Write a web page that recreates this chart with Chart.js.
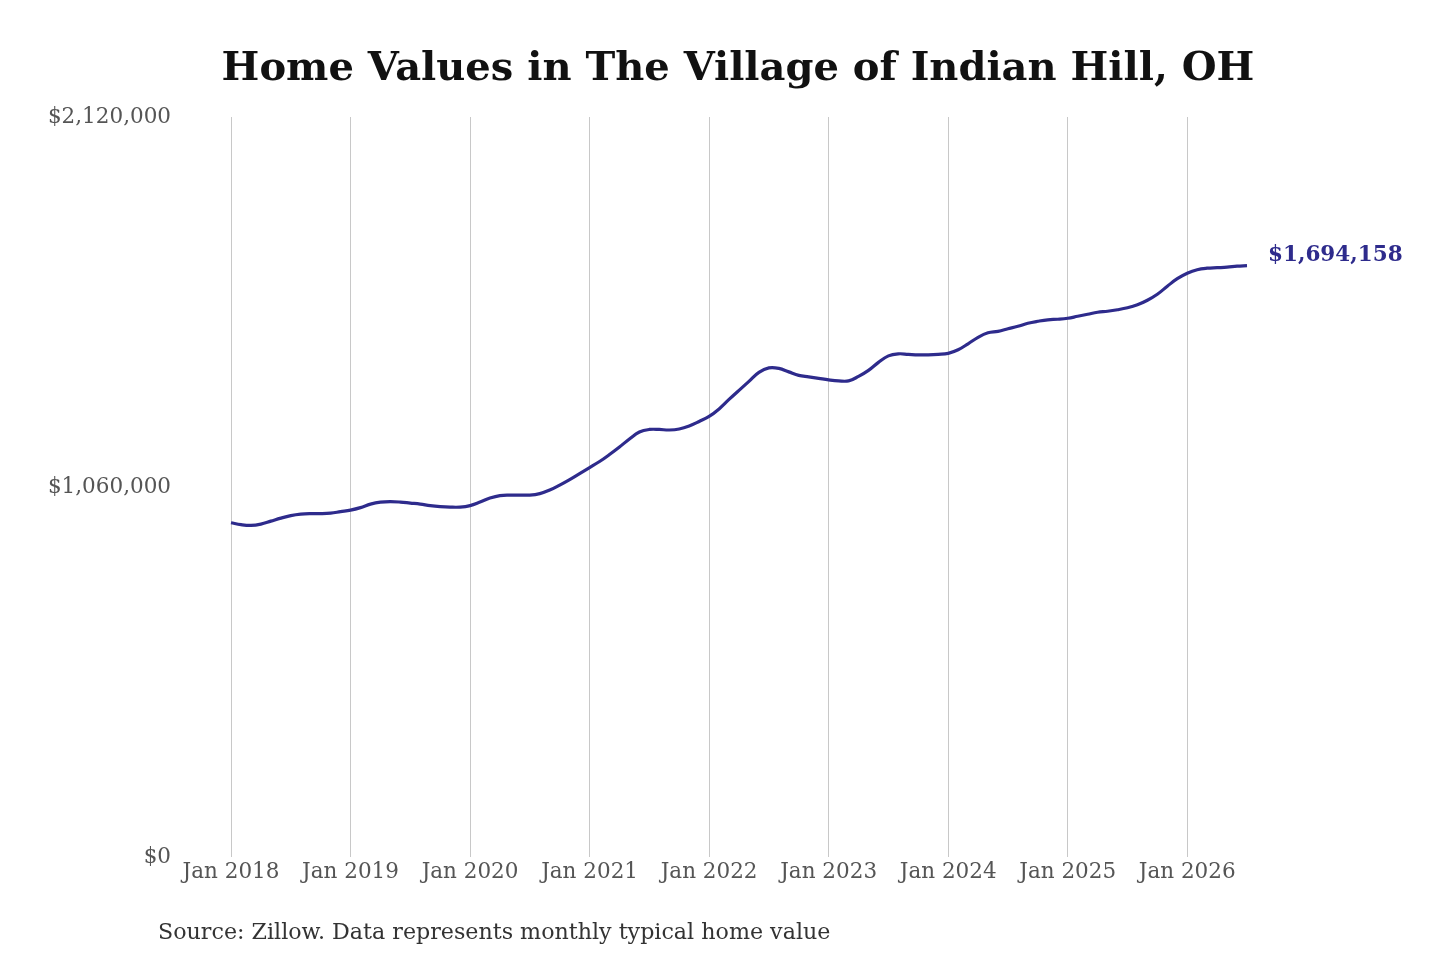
<!DOCTYPE html>
<html>
<head>
<meta charset="utf-8">
<title>Home Values in The Village of Indian Hill, OH</title>
<script src="https://cdn.jsdelivr.net/npm/chart.js@4.4.1/dist/chart.umd.min.js"></script>
<style>
  html, body { margin: 0; padding: 0; background: #fff; }
  #wrap { position: relative; width: 1440px; height: 960px; }
  #chart { position: absolute; left: 0; top: 0; }
  .title {
    position: absolute; left: 0; width: 1476px; top: 42px;
    text-align: center; font-family: "DejaVu Serif", serif; font-weight: bold;
    font-size: 40px; line-height: 48px; color: #111;
  }
  .source {
    position: absolute; left: 158px; top: 917px;
    font-family: "DejaVu Serif", serif; font-size: 22.2px; line-height: 28px; color: #333;
  }
</style>
</head>
<body>
<div id="wrap">
  <canvas id="chart" width="1440" height="960"></canvas>
  <div class="title">Home Values in The Village of Indian Hill, OH</div>
  <div class="source">Source: Zillow. Data represents monthly typical home value</div>
</div>
<script>
// monthly typical home value
const values2018 = [958000, 952500, 950200, 954000, 962500, 971200, 978300, 982600, 984100, 984100, 985500, 989800];
const values2019 = [994100, 1001300, 1011300, 1017100, 1018500, 1017100, 1014200, 1011300, 1007000, 1004200, 1002700, 1002700];
const values2020 = [1007000, 1017100, 1028500, 1035700, 1037100, 1037100, 1037100, 1041400, 1051500, 1065800, 1081600, 1098800];
const values2021 = [1116000, 1133300, 1153300, 1174900, 1197800, 1217900, 1225100, 1225100, 1223600, 1226500, 1235100, 1248000];
const values2022 = [1262400, 1283900, 1311100, 1337000, 1362800, 1388600, 1401500, 1400100, 1390000, 1380000, 1375700, 1371400];
const values2023 = [1367100, 1364200, 1364200, 1377100, 1394300, 1417300, 1435900, 1441700, 1440200, 1438800, 1438800, 1440200];
const values2024 = [1443100, 1453200, 1470400, 1489000, 1501900, 1506200, 1513400, 1520600, 1529200, 1534900, 1539200, 1540700];
const values2025 = [1543500, 1549300, 1555000, 1560700, 1563600, 1567900, 1573600, 1582200, 1595200, 1612400, 1635300, 1656900];
const values2026 = [1672600, 1682700, 1687000, 1688400, 1689800, 1692700, 1694158];

const years = [2018, 2019, 2020, 2021, 2022, 2023, 2024, 2025, 2026];
const monthNames = ['Jan', 'Feb', 'Mar', 'Apr', 'May', 'Jun', 'Jul', 'Aug', 'Sep', 'Oct', 'Nov', 'Dec'];
const yTicks = [0, 1060000, 2120000];

const homeValues = [].concat(values2018, values2019, values2020, values2021, values2022,
  values2023, values2024, values2025, values2026);

// one label per month, Jan 2018 .. Jul 2026
const months = [];
years.forEach(y => monthNames.forEach(m => months.push(m + ' ' + y)));
months.length = homeValues.length;

const serif = '"DejaVu Serif", serif';
const lineColor = '#2e2b8c';

const fmtMoney = v => '$' + Math.round(v).toLocaleString('en-US');

// label next to the last point
const endLabel = {
  id: 'endLabel',
  afterDatasetsDraw(chart) {
    const pts = chart.getDatasetMeta(0).data;
    const last = pts[pts.length - 1];
    const ctx = chart.ctx;
    ctx.save();
    ctx.font = 'bold 21.5px ' + serif;
    ctx.fillStyle = lineColor;
    ctx.textAlign = 'left';
    ctx.textBaseline = 'middle';
    ctx.fillText(fmtMoney(homeValues[homeValues.length - 1]), last.x + 21, last.y - 10);
    ctx.restore();
  }
};

new Chart(document.getElementById('chart'), {
  type: 'line',
  data: {
    labels: months,
    datasets: [{
      data: homeValues,
      borderColor: lineColor,
      borderWidth: 3.2,
      pointRadius: 0,
      tension: 0.4,
      fill: false
    }]
  },
  options: {
    responsive: false,
    animation: false,
    layout: { padding: { top: 117, right: 193, bottom: 73, left: 0 } },
    plugins: {
      legend: { display: false },
      tooltip: { enabled: false }
    },
    scales: {
      x: {
        border: { display: false },
        grid: {
          drawTicks: false,
          color: ctx => (ctx.index % 12 === 0 ? '#c8c8c8' : 'rgba(0,0,0,0)'),
          lineWidth: 1
        },
        ticks: {
          autoSkip: false,
          maxRotation: 0,
          minRotation: 0,
          padding: 2,
          color: '#555',
          font: { family: serif, size: 21.5 },
          callback: function (val, i) { return i % 12 === 0 ? this.getLabelForValue(val) : ''; }
        }
      },
      y: {
        min: 0,
        max: 2120000,
        border: { display: false },
        grid: { display: false },
        afterBuildTicks: axis => { axis.ticks = yTicks.map(v => ({ value: v })); },
        afterFit: axis => { axis.width = 231; },
        ticks: {
          padding: 52,
          color: '#555',
          font: { family: serif, size: 21.5 },
          callback: v => fmtMoney(v)
        }
      }
    }
  },
  plugins: [endLabel]
});
</script>
</body>
</html>
